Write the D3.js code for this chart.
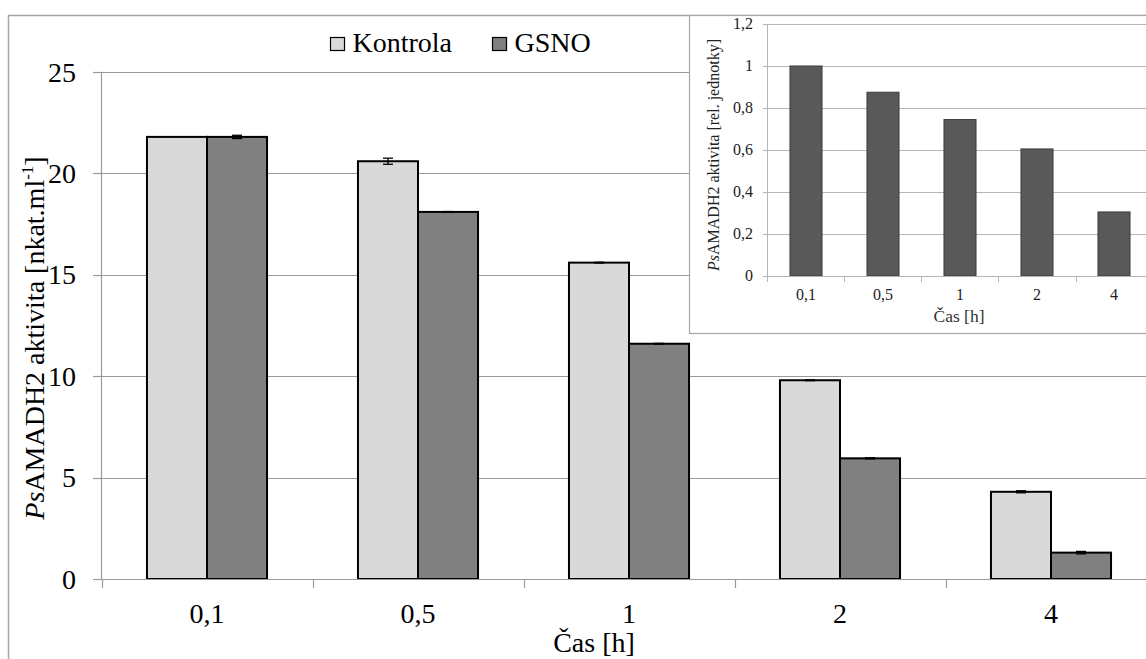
<!DOCTYPE html>
<html><head><meta charset="utf-8">
<script src="https://cdn.jsdelivr.net/npm/d3@7"></script>
<style>body{margin:0;background:#fff}svg{display:block}</style>
</head><body>
<svg id="c" width="1146" height="659"></svg>
<script>
const categories = ["0,1","0,5","1","2","4"];
const seriesNames = ["Kontrola","GSNO"];
const kontrola = [21.8, 20.6, 15.6, 9.8, 4.3];
const kontrolaErr = [0.0, 0.15, 0.02, 0.02, 0.05];
const gsno = [21.8, 18.1, 11.6, 5.95, 1.3];
const gsnoErr = [0.08, 0.02, 0.02, 0.03, 0.06];
const yTicks = [0,5,10,15,20,25];
const insetValues = [1.0, 0.875, 0.745, 0.605, 0.305];
const insetTicks = [0,0.2,0.4,0.6,0.8,1.0,1.2];
const colors = ["#d9d9d9","#808080"];
const SERIF = "Liberation Serif";

const svg = d3.select("#c").attr("font-family", SERIF);
const fmt = v => String(v).replace(".", ",");

// outer frame
svg.append("rect").attr("x",8.5).attr("y",15.5).attr("width",1200).attr("height",700)
  .attr("fill","#fff").attr("stroke","#a6a6a6").attr("stroke-width",1.5);

// main plot
const x = d3.scaleBand().domain(categories).range([101.5,1156.5]).paddingInner(0.431).paddingOuter(0.2155);
const x1 = d3.scaleBand().domain(seriesNames).range([0, x.bandwidth()]);
const y = d3.scaleLinear().domain([0,25]).range([579,72]);

const g = svg.append("g");
g.selectAll("line.grid").data(yTicks.filter(d=>d>0)).join("line")
  .attr("x1",101.5).attr("x2",1146).attr("y1",d=>Math.round(y(d))+0.5).attr("y2",d=>Math.round(y(d))+0.5)
  .attr("stroke","#9a9a9a").attr("stroke-width",1.2);
g.append("line").attr("x1",101.5).attr("x2",101.5).attr("y1",72).attr("y2",579).attr("stroke","#9a9a9a").attr("stroke-width",1.2);
g.selectAll("line.yt").data(yTicks).join("line")
  .attr("x1",93).attr("x2",101.5).attr("y1",d=>Math.round(y(d))+0.5).attr("y2",d=>Math.round(y(d))+0.5)
  .attr("stroke","#9a9a9a").attr("stroke-width",1.2);
g.selectAll("text.yl").data(yTicks).join("text")
  .attr("x",76).attr("y",d=>y(d)).attr("dy","0.34em").attr("text-anchor","end")
  .attr("font-size",28).attr("fill","#000").attr("font-family",SERIF).text(d=>d);

// bars
const data = categories.map((c,i)=>({c, vals:[{s:"Kontrola",v:kontrola[i],e:kontrolaErr[i]},{s:"GSNO",v:gsno[i],e:gsnoErr[i]}]}));
const grp = g.selectAll("g.grp").data(data).join("g").attr("transform",d=>`translate(${x(d.c)},0)`);
grp.selectAll("rect").data(d=>d.vals).join("rect")
  .attr("x",d=>x1(d.s)).attr("width",x1.bandwidth()).attr("y",d=>y(d.v)).attr("height",d=>y(0)-y(d.v))
  .attr("fill",(d,i)=>colors[i]).attr("stroke","#000").attr("stroke-width",2);
const eb = grp.selectAll("g.eb").data(d=>d.vals.filter(v=>v.e>0)).join("g");
eb.append("line").attr("x1",d=>x1(d.s)+x1.bandwidth()/2).attr("x2",d=>x1(d.s)+x1.bandwidth()/2)
  .attr("y1",d=>y(d.v+d.e)).attr("y2",d=>y(d.v-d.e)).attr("stroke","#000").attr("stroke-width",1.3);
eb.selectAll("line.cap").data(d=>[d.v+d.e,d.v-d.e].map(t=>({s:d.s,t}))).join("line")
  .attr("x1",d=>x1(d.s)+x1.bandwidth()/2-5).attr("x2",d=>x1(d.s)+x1.bandwidth()/2+5)
  .attr("y1",d=>y(d.t)).attr("y2",d=>y(d.t)).attr("stroke","#000").attr("stroke-width",1.3);

// x axis
g.append("line").attr("x1",101.5).attr("x2",1146).attr("y1",579.5).attr("y2",579.5).attr("stroke","#9a9a9a").attr("stroke-width",1.2);
const bounds = categories.map(c=>x(c)-x.step()*x.paddingOuter()).concat([x(categories[4])+x.bandwidth()+x.step()*x.paddingOuter()]);
g.selectAll("line.xt").data(bounds).join("line")
  .attr("x1",d=>Math.round(d)+0.5).attr("x2",d=>Math.round(d)+0.5).attr("y1",579).attr("y2",588)
  .attr("stroke","#9a9a9a").attr("stroke-width",1.2);
const xAxis = g.append("g").attr("transform","translate(0,579)")
  .call(d3.axisBottom(x).tickSize(0).tickPadding(24));
xAxis.attr("font-family",SERIF).attr("font-size",28);
xAxis.select(".domain").remove();
xAxis.selectAll("text").attr("dy",null).attr("y",44).attr("font-size",28).attr("font-family",SERIF).attr("fill","#000");
g.append("text").attr("x",594).attr("y",652).attr("text-anchor","middle").attr("font-size",28).attr("font-family",SERIF).text("Čas [h]");

// y title
const yt = g.append("text").attr("transform","translate(44,338) rotate(-90)").attr("text-anchor","middle").attr("font-size",28).attr("font-family",SERIF);
yt.append("tspan").attr("font-style","italic").text("Ps");
yt.append("tspan").text("AMADH2 aktivita [nkat.ml");
yt.append("tspan").attr("font-size",17).attr("dy",-11).text("-1");
yt.append("tspan").attr("dy",11).text("]");

// legend
const leg = g.append("g").selectAll("g").data(seriesNames).join("g")
  .attr("transform",(d,i)=>`translate(${[330.5,492.5][i]},37.5)`);
leg.append("rect").attr("width",14).attr("height",13).attr("fill",(d,i)=>colors[i]).attr("stroke","#000").attr("stroke-width",1.2);
leg.append("text").attr("x",22).attr("y",14.5).attr("font-size",28).attr("font-family",SERIF).text(d=>d);

// inset
const ig = svg.append("g");
ig.append("rect").attr("x",689.5).attr("y",15.5).attr("width",500).attr("height",318)
  .attr("fill","#fff").attr("stroke","#a6a6a6").attr("stroke-width",1.2);
const ix = d3.scaleBand().domain(categories).range([767.5,1152.5]).paddingInner(0.584).paddingOuter(0.292);
const iy = d3.scaleLinear().domain([0,1.2]).range([276,24]);
ig.selectAll("line.ig").data(insetTicks.filter(d=>d>0)).join("line")
  .attr("x1",767.5).attr("x2",1146).attr("y1",d=>Math.round(iy(d))+0.5).attr("y2",d=>Math.round(iy(d))+0.5)
  .attr("stroke","#b5b5b5").attr("stroke-width",1);
ig.append("line").attr("x1",767.5).attr("x2",767.5).attr("y1",24).attr("y2",276).attr("stroke","#b5b5b5");
ig.selectAll("line.it").data(insetTicks).join("line")
  .attr("x1",763).attr("x2",767.5).attr("y1",d=>Math.round(iy(d))+0.5).attr("y2",d=>Math.round(iy(d))+0.5).attr("stroke","#b5b5b5");
ig.selectAll("text.il").data(insetTicks).join("text")
  .attr("x",753).attr("y",d=>iy(d)).attr("dy","0.34em").attr("text-anchor","end").attr("font-size",16).attr("font-family",SERIF).attr("fill","#222").text(fmt);
ig.selectAll("rect.ib").data(insetValues).join("rect")
  .attr("x",(d,i)=>ix(categories[i])).attr("width",ix.bandwidth()).attr("y",d=>iy(d)).attr("height",d=>iy(0)-iy(d))
  .attr("fill","#595959").attr("stroke","#3a3a3a").attr("stroke-width",1);
ig.append("line").attr("x1",767.5).attr("x2",1146).attr("y1",276.5).attr("y2",276.5).attr("stroke","#b5b5b5");
const ib = categories.map(c=>ix(c)-ix.step()*ix.paddingOuter());
ig.selectAll("line.ixt").data(ib).join("line")
  .attr("x1",d=>Math.round(d)+0.5).attr("x2",d=>Math.round(d)+0.5).attr("y1",276).attr("y2",282).attr("stroke","#b5b5b5");
const ixa = ig.append("g").attr("transform","translate(0,276)").call(d3.axisBottom(ix).tickSize(0).tickPadding(13));
ixa.attr("font-family",SERIF).attr("font-size",16);
ixa.select(".domain").remove();
ixa.selectAll("text").attr("dy",null).attr("y",24).attr("font-size",16).attr("font-family",SERIF).attr("fill","#222");
ig.append("text").attr("x",959).attr("y",322).attr("text-anchor","middle").attr("font-size",17.5).attr("font-family",SERIF).attr("fill","#333").text("Čas [h]");
const iyt = ig.append("text").attr("transform","translate(719,155) rotate(-90)").attr("text-anchor","middle").attr("font-size",16).attr("font-family",SERIF).attr("fill","#222");
iyt.append("tspan").attr("font-style","italic").text("Ps");
iyt.append("tspan").text("AMADH2 aktivita [rel. jednotky]");
</script>
</body></html>
